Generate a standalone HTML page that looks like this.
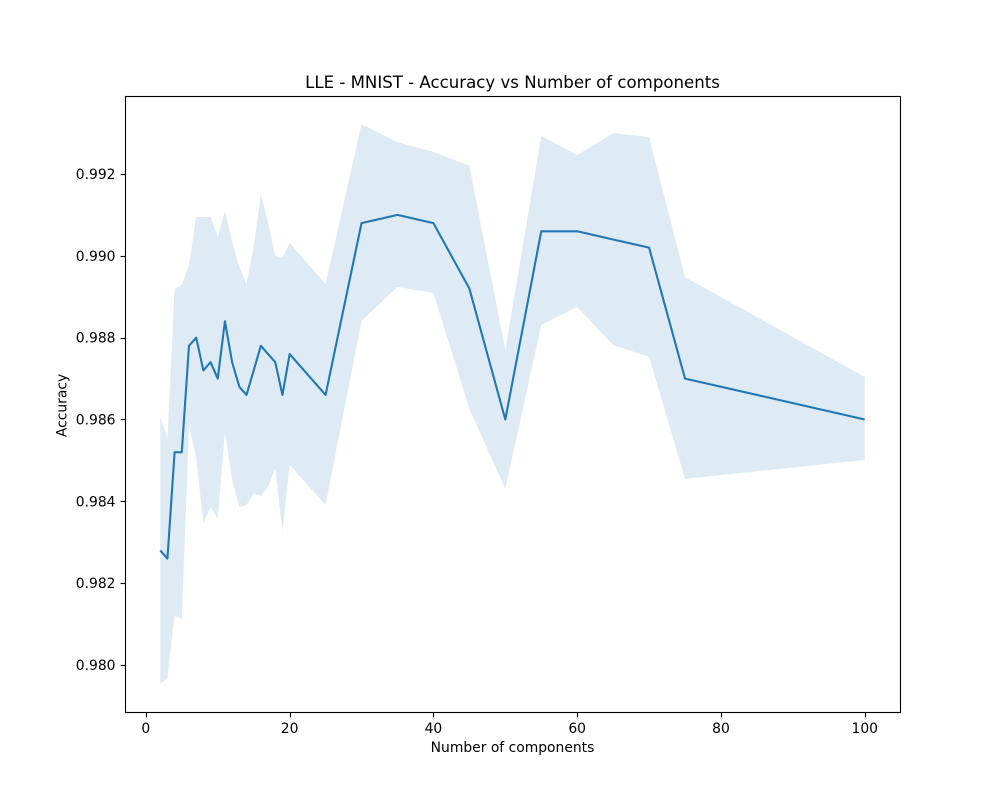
<!DOCTYPE html>
<html>
<head>
<meta charset="utf-8">
<style>
html,body{margin:0;padding:0;background:#fff;}
svg{display:block;}
text{font-family:"DejaVu Sans",sans-serif;fill:#000;}
</style>
</head>
<body>
<svg id="chart" width="1000" height="800" viewBox="0 0 1000 800" xmlns="http://www.w3.org/2000/svg">
  <rect x="0" y="0" width="1000" height="800" fill="#fff"/>
  <text x="512.5" y="88" font-size="16.6" text-anchor="middle">LLE - MNIST - Accuracy vs Number of components</text>
  <text x="512.5" y="752" font-size="13.89" text-anchor="middle">Number of components</text>
  <text transform="translate(66.5,405.5) rotate(-90)" font-size="13.89" text-anchor="middle">Accuracy</text>
  <g id="marks"></g>
  <g id="ticks"></g>
  <rect x="125.5" y="96.5" width="775" height="616" fill="none" stroke="#000" stroke-width="1.11"/>
</svg>
<script>
const components = [2,3,4,5,6,7,8,9,10,11,12,13,14,15,16,17,18,19,20,25,30,35,40,45,50,55,60,65,70,75,100];
const accuracyMean = [.9828,.9826,.9852,.9852,.9878,.988,.9872,.9874,.987,.9884,.9874,.9868,.9866,.9872,.9878,.9876,.9874,.9866,.9876,.9866,.9908,.991,.9908,.9892,.986,.9906,.9906,.9904,.9902,.987,.986];
const accuracyUpper = [.98606,.98555,.98919,.98929,.98978,.99095,.99095,.99095,.99046,.9911,.99034,.98973,.98931,.99022,.99149,.99083,.9900,.98995,.99031,.98931,.99322,.99278,.99254,.9922,.9877,.99293,.99246,.9930,.9929,.98948,.98704];
const accuracyLower = [.97954,.97968,.9812,.98112,.98582,.98508,.98347,.98386,.98357,.98569,.98452,.98386,.98391,.9842,.98413,.98435,.98481,.98327,.98489,.98391,.98841,.98924,.98909,.98626,.9843,.98831,.98875,.98782,.98753,.98455,.98501];
const xTickValues = [0,20,40,60,80,100];
const yTickValues = [0.980,0.982,0.984,0.986,0.988,0.990,0.992];
const yTickLabels = ["0.980","0.982","0.984","0.986","0.988","0.990","0.992"];

const NS = "http://www.w3.org/2000/svg";
function xScale(v){ return 145.85 + v * 7.189; }
function yScale(v){ return 665 - (v - 0.98) * 40917; }

const marks = document.getElementById("marks");
const ticks = document.getElementById("ticks");

const upperPts = components.map((c,i)=>xScale(c).toFixed(2)+","+yScale(accuracyUpper[i]).toFixed(2));
const lowerPts = components.map((c,i)=>xScale(c).toFixed(2)+","+yScale(accuracyLower[i]).toFixed(2)).reverse();
const band = document.createElementNS(NS,"polygon");


band.setAttribute("points", upperPts.concat(lowerPts).join(" "));
band.setAttribute("fill", "#1f77b4");
band.setAttribute("fill-opacity", "0.15");
marks.appendChild(band);

const line = document.createElementNS(NS,"polyline");


line.setAttribute("points", components.map((c,i)=>xScale(c).toFixed(2)+","+yScale(accuracyMean[i]).toFixed(2)).join(" "));
line.setAttribute("fill", "none");
line.setAttribute("stroke", "#1f77b4");
line.setAttribute("stroke-width", "2.08");
line.setAttribute("stroke-linejoin", "round");
marks.appendChild(line);

xTickValues.forEach(function(v){
  const x = Math.round(xScale(v)) + 0.5;
  const t = document.createElementNS(NS,"line");
  
  
  t.setAttribute("x1", x); t.setAttribute("x2", x);
  t.setAttribute("y1", 712.5); t.setAttribute("y2", 717.4);
  t.setAttribute("stroke", "#000"); t.setAttribute("stroke-width", "1.11");
  ticks.appendChild(t);
  const l = document.createElementNS(NS,"text");
  
  
  l.setAttribute("x", xScale(v)); l.setAttribute("y", 733);
  l.setAttribute("font-size", "13.89");
  l.setAttribute("text-anchor", "middle");
  l.textContent = String(v);
  ticks.appendChild(l);
});

yTickValues.forEach(function(v,i){
  const y = Math.round(yScale(v)) + 0.5;
  const t = document.createElementNS(NS,"line");
  
  
  t.setAttribute("x1", 120.6); t.setAttribute("x2", 125.5);
  t.setAttribute("y1", y); t.setAttribute("y2", y);
  t.setAttribute("stroke", "#000"); t.setAttribute("stroke-width", "1.11");
  ticks.appendChild(t);
  const l = document.createElementNS(NS,"text");
  
  
  l.setAttribute("x", 115.5); l.setAttribute("y", yScale(v) + 5);
  l.setAttribute("font-size", "13.89");
  l.setAttribute("text-anchor", "end");
  l.textContent = yTickLabels[i];
  ticks.appendChild(l);
});
</script>
</body>
</html>
